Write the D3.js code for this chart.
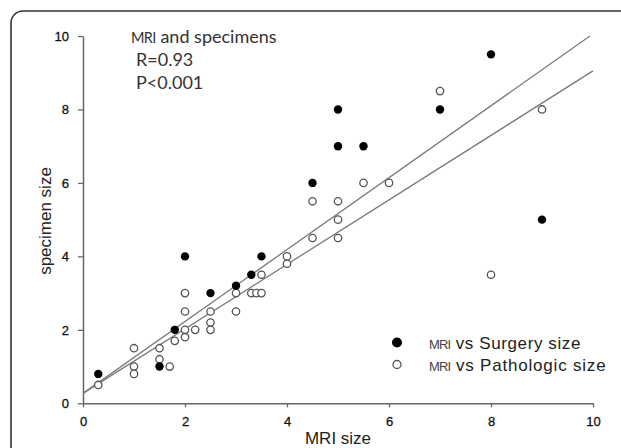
<!DOCTYPE html>
<html>
<head>
<meta charset="utf-8">
<script src="https://cdn.jsdelivr.net/npm/d3@7"></script>
<style>
  body { margin: 0; background: #fff; }
  svg { display: block; }
</style>
</head>
<body>
<svg width="621" height="448"></svg>
<script>
// MRI size vs specimen size
var surgeryX = [0.3, 1.5, 1.8, 2.0, 2.5, 3.0, 3.3, 3.5, 4.5, 5.0, 5.0, 5.5, 7.0, 8.0, 9.0];
var surgeryY = [0.8, 1.0, 2.0, 4.0, 3.0, 3.2, 3.5, 4.0, 6.0, 7.0, 8.0, 7.0, 8.0, 9.5, 5.0];

var pathoX = [0.3, 1.0, 1.0, 1.0, 1.5, 1.5, 1.7, 1.8, 2.0, 2.0, 2.0, 2.0, 2.2, 2.5, 2.5, 2.5,
              3.0, 3.0, 3.3, 3.4, 3.5, 3.5, 4.0, 4.0, 4.5, 4.5, 5.0, 5.0, 5.0, 5.5, 6.0, 7.0, 8.0, 9.0];
var pathoY = [0.5, 1.5, 1.0, 0.8, 1.5, 1.2, 1.0, 1.7, 3.0, 2.5, 2.0, 1.8, 2.0, 2.5, 2.2, 2.0,
              3.0, 2.5, 3.0, 3.0, 3.0, 3.5, 4.0, 3.8, 4.5, 5.5, 4.5, 5.0, 5.5, 6.0, 6.0, 8.5, 3.5, 8.0];

// fitted lines: [x start, y start, x end, y end]
var fitSurgery = [0, 0.27, 9.94, 10.0];
var fitPatho = [0, 0.27, 10, 9.05];

var xTicks = [0, 2, 4, 6, 8, 10];
var yTicks = [0, 2, 4, 6, 8, 10];

var svg = d3.select('svg');

// frame
svg.append('rect')
  .attr('x', 11).attr('y', 11)
  .attr('width', 640).attr('height', 470)
  .attr('rx', 12).attr('ry', 12)
  .attr('fill', 'none')
  .attr('stroke', '#333')
  .attr('stroke-width', 1.6);

var x = d3.scaleLinear().domain([0, 10]).range([83, 593]);
var y = d3.scaleLinear().domain([0, 10]).range([403.3, 36]);

var g = svg.append('g');

var xAxis = g.append('g')
  .attr('transform', 'translate(0,403.3)')
  .call(d3.axisBottom(x).tickValues(xTicks).tickSize(4).tickPadding(9).tickSizeOuter(0));
var yAxis = g.append('g')
  .attr('transform', 'translate(83,0)')
  .call(d3.axisLeft(y).tickValues(yTicks).tickSize(5).tickPadding(9).tickSizeOuter(0));

[xAxis, yAxis].forEach(function(a) {
  a.select('.domain').attr('stroke', '#666').attr('stroke-width', 1.5);
  a.selectAll('.tick line').attr('stroke', '#666').attr('stroke-width', 1.3);
  a.selectAll('.tick text')
    .attr('font-family', 'Arial, "Liberation Sans", sans-serif')
    .attr('font-size', 13)
    .attr('fill', '#111')
    .attr('stroke', '#111')
    .attr('stroke-width', 0.3);
});

// axis titles
svg.append('text')
  .attr('x', 338).attr('y', 444)
  .attr('text-anchor', 'middle')
  .attr('font-family', 'Arial, "Liberation Sans", sans-serif')
  .attr('font-size', 17)
  .attr('fill', '#222')
  .text('MRI size');

svg.append('text')
  .attr('transform', 'translate(51,221) rotate(-90)')
  .attr('text-anchor', 'middle')
  .attr('font-family', 'Arial, "Liberation Sans", sans-serif')
  .attr('font-size', 17)
  .attr('fill', '#222')
  .text('specimen size');

// regression lines
[fitSurgery, fitPatho].forEach(function(f) {
  g.append('line')
    .attr('x1', x(f[0])).attr('y1', y(f[1]))
    .attr('x2', x(f[2])).attr('y2', y(f[3]))
    .attr('stroke', '#7a7a7a')
    .attr('stroke-width', 1.3);
});

// points
g.selectAll('circle.patho')
  .data(d3.zip(pathoX, pathoY))
  .join('circle')
  .attr('class', 'patho')
  .attr('cx', function(d) { return x(d[0]); })
  .attr('cy', function(d) { return y(d[1]); })
  .attr('r', 3.7)
  .attr('fill', '#fff')
  .attr('stroke', '#555')
  .attr('stroke-width', 1.3);

g.selectAll('circle.surg')
  .data(d3.zip(surgeryX, surgeryY))
  .join('circle')
  .attr('class', 'surg')
  .attr('cx', function(d) { return x(d[0]); })
  .attr('cy', function(d) { return y(d[1]); })
  .attr('r', 4.2)
  .attr('fill', '#000');

// annotation
var note = svg.append('text')
  .attr('font-family', 'Lato, "Open Sans", sans-serif')
  .attr('font-size', 18)
  .attr('fill', '#333');
var l1 = note.append('tspan').attr('x', 131).attr('y', 43);
l1.append('tspan').attr('font-size', 14.5).attr('letter-spacing', -0.6).text('MRI');
l1.append('tspan').text(' and specimens');
note.append('tspan').attr('x', 136).attr('y', 66).text('R=0.93');
note.append('tspan').attr('x', 136).attr('y', 89).text('P<0.001');

// legend
var legend = [
  { label: 'vs Surgery size', fill: '#000', stroke: 'none', r: 5, ls: 0.6 },
  { label: 'vs Pathologic size', fill: '#fff', stroke: '#555', r: 4, ls: 0.8 }
];
legend.forEach(function(d, i) {
  var ly = 342.5 + i * 22;
  svg.append('circle')
    .attr('cx', 397).attr('cy', ly)
    .attr('r', d.r)
    .attr('fill', d.fill)
    .attr('stroke', d.stroke)
    .attr('stroke-width', 1.3);
  var t = svg.append('text')
    .attr('x', 429).attr('y', ly + 6)
    .attr('font-family', 'Arial, "Liberation Sans", sans-serif')
    .attr('font-size', 17)
    .attr('fill', '#222');
  t.append('tspan').attr('font-size', 13).attr('letter-spacing', -0.8).attr('fill', '#444').text('MRI');
  t.append('tspan').attr('letter-spacing', d.ls).text(' ' + d.label);
});
</script>
</body>
</html>
